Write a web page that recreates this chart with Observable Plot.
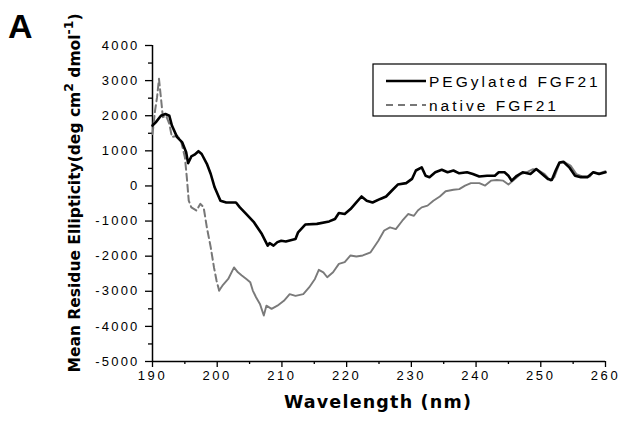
<!DOCTYPE html>
<html>
<head>
<meta charset="utf-8">
<script src="https://cdn.jsdelivr.net/npm/d3@7"></script>
<script src="https://cdn.jsdelivr.net/npm/@observablehq/plot@0.6"></script>
<style>
  html, body { margin: 0; padding: 0; background: #fff; }
  #chart svg { display: block; }
</style>
</head>
<body>
<div id="chart"></div>
<script>
// ---- data ----
const pegWavelength = [190,190.5,191.3,192,192.6,193,193.8,194.6,195.2,195.5,196,196.5,197.1,197.6,198.4,199,199.6,200.5,201.4,202.9,203.5,204.5,205.7,206.9,207.8,208.1,208.7,209.3,209.9,210.6,212.1,212.5,213.6,215.4,217.3,218.2,218.8,219.7,220.6,221.5,222.3,223.1,224,225.2,226.1,227,227.9,229.2,230.1,230.7,231.6,232.2,232.8,233.7,234.7,235.6,236.5,237.4,238.6,239.5,240.5,241.7,242.9,243.5,244.4,245,245.5,246.3,247.2,248.4,249.3,250.2,251.1,251.7,252.3,252.9,253.5,254.4,255.3,256.2,257.2,258.1,259,260];
const pegValue = [1720,1810,2000,2050,2000,1720,1390,1240,960,650,840,890,990,910,630,340,-40,-420,-470,-470,-610,-800,-1040,-1370,-1700,-1630,-1700,-1600,-1560,-1580,-1510,-1320,-1100,-1080,-1010,-940,-770,-800,-660,-470,-300,-420,-470,-370,-300,-130,40,80,200,440,530,290,250,390,460,390,440,360,390,340,270,290,290,390,390,290,150,290,390,340,480,340,200,170,440,670,690,530,290,250,250,390,340,390];

const nativeWavelength = [190,190.4,190.7,191,191.3,191.6,192.1,192.6,193,193.8,194.4,195,195.3,195.6,196,196.8,197.4,197.9,198.4,199,199.5,199.9,200.3,200.8,201.7,202.6,203.2,203.8,204.5,205.1,205.5,206,206.6,207.2,207.6,208.4,209.3,210.3,211.2,212.1,213.3,214.2,215.1,215.7,216.4,217,217.9,218.8,219.7,220.6,221.5,222.5,223.7,224.9,225.8,226.7,227.6,228.6,229.5,230.4,231,231.6,232.5,233.4,234.4,235.3,236.5,237.4,238.3,239.2,240.5,241.4,242.3,243.2,244.2,245,246,246.9,247.8,248.8,249.7,250.6,251.5,252.1,252.9,253.7,254.6,255.5,256.4,257.6,258.1,259,260];
const nativeValue = [1480,2150,2520,3050,2520,1960,2000,1770,1390,1430,1290,820,250,-420,-610,-700,-510,-610,-1180,-1750,-2320,-2700,-2980,-2840,-2650,-2320,-2460,-2550,-2650,-2740,-2980,-3170,-3360,-3690,-3410,-3500,-3410,-3270,-3080,-3130,-3080,-2890,-2650,-2390,-2460,-2600,-2460,-2220,-2170,-1980,-2010,-1980,-1890,-1560,-1270,-1180,-1230,-990,-800,-850,-700,-610,-560,-420,-300,-150,-110,-90,10,80,80,10,150,170,150,40,200,340,390,480,440,340,150,250,650,670,580,340,270,270,390,360,420];

const xTicks = [190,200,210,220,230,240,250,260];
const xMinorTicks = [195,205,215,225,235,245,255];
const yTicks = [-5000,-4000,-3000,-2000,-1000,0,1000,2000,3000,4000];
const yMinorTicks = [-4500,-3500,-2500,-1500,-500,500,1500,2500,3500];
const seriesNames = ["PEGylated FGF21", "native FGF21"];
const panelLabel = "A";
const xLabel = "Wavelength (nm)";

// tables built from the arrays
const peg = pegWavelength.map((x, i) => ({x, y: pegValue[i]}));
const native = nativeWavelength.map((x, i) => ({x, y: nativeValue[i]}));
const dashEnd = 200.3;

const W = 620, H = 425;
const mL = 152, mR = 15, mT = 45, mB = 64;
const font = "'Liberation Sans', Arial, sans-serif";

const plot = Plot.plot({
  width: W,
  height: H,
  marginLeft: mL,
  marginRight: mR,
  marginTop: mT,
  marginBottom: mB,
  style: {fontFamily: font, fontSize: "12px", color: "#000", background: "#fff", overflow: "visible"},
  x: {domain: [190, 260]},
  y: {domain: [-5000, 4000]},
  marks: [
    Plot.axisX({ticks: xMinorTicks, tickSize: 3, tickFormat: () => "", label: null, strokeWidth: 1.3}),
    Plot.axisX({ticks: xTicks, tickSize: 6, tickPadding: 3, tickFormat: d => String(d), label: null, strokeWidth: 1.3,
      fontSize: 13}),
    Plot.axisY({ticks: yMinorTicks, tickSize: 4, tickFormat: () => "", label: null, strokeWidth: 1.3}),
    Plot.axisY({ticks: yTicks, tickSize: 7, tickPadding: 6, tickFormat: d => String(d), label: null, strokeWidth: 1.3,
      fontSize: 13}),
    Plot.ruleX([190], {stroke: "#000", strokeWidth: 1.5}),
    Plot.ruleY([-5000], {stroke: "#000", strokeWidth: 1.5}),
    Plot.line(native.filter(d => d.x <= dashEnd), {x: "x", y: "y", stroke: "#777", strokeWidth: 2, strokeDasharray: "7,4"}),
    Plot.line(native.filter(d => d.x >= dashEnd), {x: "x", y: "y", stroke: "#7a7a7a", strokeWidth: 1.9}),
    Plot.line(peg, {x: "x", y: "y", stroke: "#000", strokeWidth: 2.6})
  ]
});

document.getElementById("chart").appendChild(plot);

// ---- annotations: labels and legend ----
const svg = d3.select(plot);

// widen tick label spacing to match the reference's stretched digits
const yTickSet = new Set(yTicks.map(String));
const xTickSet = new Set(xTicks.map(String));
svg.selectAll("text").each(function() {
  const t = this.textContent.trim();
  if (xTickSet.has(t) && !yTickSet.has(t)) this.setAttribute("letter-spacing", "2.6");
  else if (yTickSet.has(t)) this.setAttribute("letter-spacing", "2.2");
});

svg.append("text")
  .attr("x", 8).attr("y", 38)
  .attr("text-anchor", "start")
  .attr("font-family", font).attr("font-weight", "bold").attr("font-size", 34)
  .attr("fill", "#000")
  .text(panelLabel);

const yl = svg.append("text")
  .attr("transform", "translate(80,193) rotate(-90)")
  .attr("text-anchor", "middle")
  .attr("font-family", "'DejaVu Sans', sans-serif").attr("font-weight", "bold").attr("font-size", 15.5)
  .attr("fill", "#000");
yl.append("tspan").text("Mean Residue Ellipticity(deg cm");
yl.append("tspan").attr("dy", -7).attr("font-size", 12.5).text("2");
yl.append("tspan").attr("dy", 7).text(" dmol");
yl.append("tspan").attr("dy", -7).attr("font-size", 12.5).text("-1");
yl.append("tspan").attr("dy", 7).text(")");

svg.append("text")
  .attr("x", 378).attr("y", 408)
  .attr("text-anchor", "middle")
  .attr("font-family", "'DejaVu Sans', sans-serif").attr("font-weight", "bold").attr("font-size", 17.5)
  .attr("letter-spacing", "1.2px")
  .attr("fill", "#000")
  .text(xLabel);

// legend box
const lg = svg.append("g");
lg.append("rect").attr("x", 373).attr("y", 64).attr("width", 233).attr("height", 52)
  .attr("fill", "#fff").attr("stroke", "#000").attr("stroke-width", 1.2);
const entries = [
  {name: seriesNames[0], y: 81, stroke: "#000", width: 2.6, dash: null},
  {name: seriesNames[1], y: 105, stroke: "#777", width: 2, dash: "7,5"}
];
entries.forEach(e => {
  lg.append("line").attr("x1", 386).attr("x2", 426).attr("y1", e.y).attr("y2", e.y)
    .attr("stroke", e.stroke).attr("stroke-width", e.width).attr("stroke-dasharray", e.dash);
  lg.append("text").attr("x", 429).attr("y", e.y).attr("dy", "0.36em")
    .attr("text-anchor", "start")
    .attr("font-family", font).attr("font-size", 15.5).attr("letter-spacing", "3px")
    .attr("fill", "#000").text(e.name);
});
</script>
</body>
</html>
